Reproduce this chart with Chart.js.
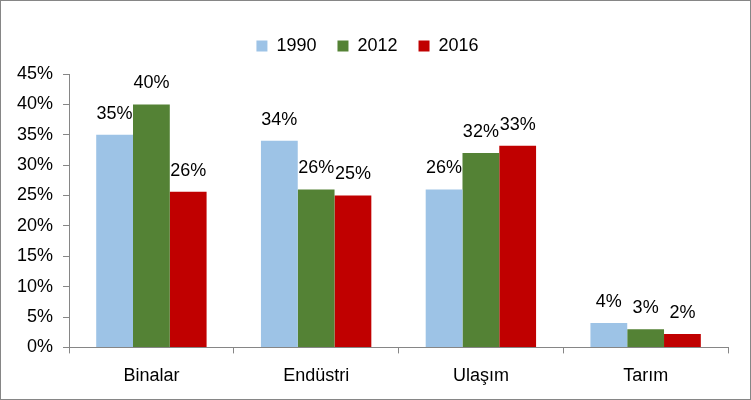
<!DOCTYPE html>
<html>
<head>
<meta charset="utf-8">
<script src="https://cdn.jsdelivr.net/npm/chart.js@4/dist/chart.umd.min.js"></script>
<style>
	body { margin: 0; background: #fff; }
	#wrap { width: 751px; height: 400px; box-sizing: border-box; border: 1px solid #868686; }
</style>
</head>
<body>
<div id="wrap"><canvas id="chart"></canvas></div>
<script>
const categories = ['Binalar', 'Endüstri', 'Ulaşım', 'Tarım']
const seriesNames = ['1990', '2012', '2016']
const values1990 = [35, 34, 26, 4]
const values2012 = [40, 26, 32, 3]
const values2016 = [25.6, 25, 33.2, 2.2]
const colors = ['#9dc3e6', '#548235', '#c00000']

const font = { family: 'Liberation Sans', size: 18 }

const barLabels = {
	id: 'barLabels',
	afterDatasetsDraw(chart) {
		const ctx = chart.ctx
		ctx.save()
		ctx.font = `${font.size}px ${font.family}`
		ctx.fillStyle = '#000'
		ctx.textAlign = 'center'
		ctx.textBaseline = 'bottom'
		chart.data.datasets.forEach((ds, i) => {
			chart.getDatasetMeta(i).data.forEach((bar, j) => {
				ctx.fillText(Math.round(ds.data[j]) + '%', bar.x, bar.y - 12)
			})
		})
		ctx.restore()
	}
}

// extra space under the legend
const legendSpace = {
	id: 'legendSpace',
	beforeInit(chart) {
		const fit = chart.legend.fit
		chart.legend.fit = function () {
			fit.bind(chart.legend)()
			this.height += 9
		}
	}
}

new Chart(document.getElementById('chart'), {
	type: 'bar',
	data: {
		labels: categories,
		datasets: [values1990, values2012, values2016].map((data, i) => ({
			label: seriesNames[i],
			data: data,
			backgroundColor: colors[i],
			barPercentage: 1.0,
			categoryPercentage: 0.67,
		}))
	},
	options: {
		responsive: true,
		maintainAspectRatio: false,
		animation: false,
		layout: { padding: { top: 15, right: 22, bottom: 0, left: 6 } },
		plugins: {
			legend: {
				position: 'top',
				labels: {
					boxWidth: 11,
					boxHeight: 11,
					color: '#000',
					font: font,
					padding: 21,
				}
			},
			tooltip: { enabled: false }
		},
		scales: {
			x: {
				grid: { display: true, drawOnChartArea: false, drawTicks: true, tickLength: 6, color: '#868686', offset: true },
				border: { color: '#868686' },
				ticks: { color: '#000', font: font, padding: 12 }
			},
			y: {
				min: 0,
				max: 45,
				grid: { display: true, drawOnChartArea: false, drawTicks: true, tickLength: 6, color: '#868686' },
				border: { color: '#868686' },
				ticks: { stepSize: 5, color: '#000', font: font, padding: 10, callback: v => v + '%' }
			}
		}
	},
	plugins: [barLabels, legendSpace]
})
</script>
</body>
</html>
